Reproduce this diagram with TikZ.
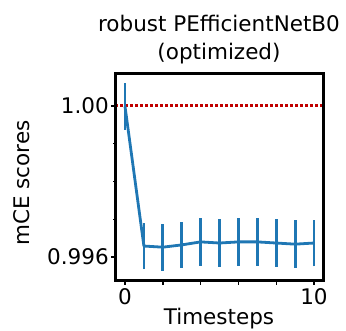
\documentclass[tikz,border=0pt]{standalone}
\usepackage{fontspec}
\setmainfont{DejaVu Sans}
\usetikzlibrary{positioning}
\definecolor{mplblue}{HTML}{1F77B4}
\definecolor{refred}{RGB}{192,0,0}

\begin{document}
\begin{tikzpicture}[
    x=1pt, y=1pt,
    font=\fontsize{21.5}{28}\selectfont,
    frame/.style={draw=black, line width=3pt},
    refline/.style={draw=refred, line width=3pt, dash pattern=on 3.3pt off 1.7pt},
    meanline/.style={draw=mplblue, line width=2.8pt, line join=round},
    errbar/.style={draw=mplblue, line width=2.8pt},
    tickmark/.style={draw=black, line width=1.4pt},
    ticklab/.style={inner sep=0pt},
  ]
  \useasboundingbox (0,0) rectangle (346,331);

  % data axes: x in timesteps, y in thousandths above 0.996
  \begin{scope}[shift={(125pt,74pt)}, x=18.9pt, y=37.75pt]
    \coordinate (ll) at (-0.529,-0.628);
    \coordinate (ur) at (10.492,4.866);

    \draw[refline] (ll |- 0,4) -- (ur |- 0,4);

    \draw[meanline] plot coordinates {(0,3.99) (1,0.29) (2,0.26) (3,0.32) (4,0.40)
      (5,0.37) (6,0.40) (7,0.40) (8,0.37) (9,0.34) (10,0.37)};
    \foreach \t/\m/\e in {0/3.99/0.62, 1/0.29/0.61, 2/0.26/0.62, 3/0.32/0.61,
        4/0.40/0.63, 5/0.37/0.63, 6/0.40/0.63, 7/0.40/0.63, 8/0.37/0.63,
        9/0.34/0.63, 10/0.37/0.62}
      \draw[errbar] (\t,\m-\e) -- (\t,\m+\e);

    \draw[frame] (ll) rectangle (ur);

    % ticks
    \foreach \t in {0,2,...,10}
      \draw[tickmark] (\t,-0.628) -- ++(0,-4pt);
    \draw[tickmark] (-0.529,4) -- ++(-4pt,0);
    \draw[tickmark] (-0.529,0) -- ++(-4pt,0);
    \foreach \v in {1,2,3}
      \draw[tickmark, line width=1pt] (-0.529,\v) -- ++(-2.5pt,0);

    \node[ticklab, anchor=east] (yhi) at (-0.85,4) {1.00};
    \node[ticklab, anchor=east] (ylo) at (-0.85,0) {0.996};
    \node[ticklab, anchor=north] (xlo) at (0,-0.82) {0};
    \node[ticklab, anchor=north] (xhi) at (10,-0.82) {10};
  \end{scope}

  \node[anchor=base, inner sep=0pt] (xname) at (219,6.7) {Timesteps};
  \node[anchor=base, inner sep=0pt, rotate=90] (yname) at (29.3,148) {mCE scores};
  \node[anchor=base, inner sep=0pt] (title) at (219,299.3) {robust PEfficientNetB0};
  \node[anchor=base, inner sep=0pt] (subtitle) at (219,271) {(optimized)};
\end{tikzpicture}
\end{document}
